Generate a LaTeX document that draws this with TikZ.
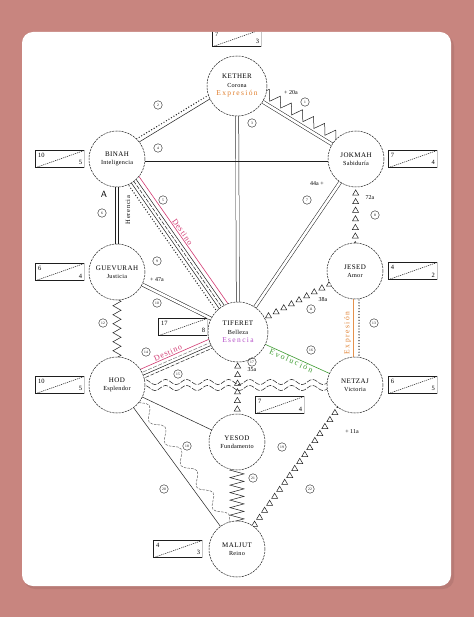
\documentclass[tikz,border=0pt]{standalone}
\usepackage{fontspec}
\setmainfont{Liberation Serif}
\usepackage{xcolor}
\usetikzlibrary{positioning, calc, backgrounds, shapes.geometric, decorations.pathmorphing, decorations.markings}

\definecolor{bgrose}{HTML}{C8857F}
\definecolor{ink}{HTML}{1E1E1E}
\definecolor{cdestino}{HTML}{D23A72}
\definecolor{cevol}{HTML}{3D9B30}
\definecolor{cexpr}{HTML}{E07E2C}
\definecolor{cesen}{HTML}{B54FC8}

% line between two sefirot, shifted sideways
\newcommand{\offline}[4][]{%
  \draw[#1] ($(#2.center)!#4!90:(#3.center)$) -- ($(#3.center)!#4!-90:(#2.center)$);}
% number box with a dashed diagonal
\newcommand{\numbox}[4]{%
  \node[boxframe, #2] (#1) {};
  \draw[boxline] (#1.north east) -- (#1.north west) -- (#1.south west) -- (#1.south east);
  \draw[gray!45, line width=.6pt] (#1.north east) -- (#1.south east);
  \draw[boxdiag] (#1.south west) -- (#1.north east);
  \node[boxnum, anchor=north west] at (#1.north west) {#3};
  \node[boxnum, anchor=south east] at (#1.south east) {#4};}
\newcommand{\ssub}[1]{{\fontsize{6.2}{8.5}\selectfont\addfontfeatures{LetterSpace=4}#1}}
\newcommand{\slab}[2]{{\color{#1}\fontsize{7.5}{8.5}\selectfont\addfontfeatures{LetterSpace=18}#2}}

\begin{document}
\begin{tikzpicture}[x=1pt, y=-1pt, font=\fontsize{6}{7}\selectfont,
  sefira/.style={circle, draw=ink, line width=.5pt, dash pattern=on 2.2pt off .9pt, fill=white,
    minimum size=#1, inner sep=0pt, align=center, font=\fontsize{7}{8.5}\selectfont\addfontfeatures{LetterSpace=6}},
  sefira/.default=56pt,
  boxframe/.style={rectangle, inner sep=0pt, minimum width=49pt, minimum height=17pt},
  boxline/.style={draw=ink, line width=.6pt},
  boxdiag/.style={draw=ink, line width=.5pt, dash pattern=on 1.2pt off .9pt},
  boxnum/.style={inner sep=2.5pt, font=\fontsize{6.5}{7}\selectfont},
  plain/.style={draw=ink, line width=.5pt},
  dbl/.style={draw=ink, line width=.5pt, double=white, double distance=2.6pt},
  dotrow/.style={draw=ink, line width=1.4pt, line cap=round, dash pattern=on 0pt off 2.9pt},
  dashline/.style={draw=ink, line width=.5pt, dash pattern=on 4pt off 1.5pt},
  zigline/.style 2 args={draw=ink, line width=.5pt, decorate, decoration={zigzag, amplitude=#1, segment length=#2}},
  wave/.style={draw=ink, line width=.5pt, dash pattern=on 5pt off 1.5pt, decorate,
    decoration={snake, amplitude=2.6pt, segment length=21pt}},
  squig/.style={draw=ink!70, line width=.5pt, dash pattern=on 2.5pt off 1.2pt, decorate,
    decoration={snake, amplitude=5pt, segment length=27pt}},
  tri/.style={regular polygon, regular polygon sides=3, draw=ink, line width=.5pt, minimum size=7pt, inner sep=0pt},
  trirow/.style={decorate, decoration={markings, mark=between positions 0 and 1 step 8.6pt with {\node[tri] {};}}},
  destino/.style={draw=cdestino, line width=.6pt},
  destlab/.style={text=cdestino, inner sep=1pt, font=\fontsize{8}{8}\selectfont\addfontfeatures{LetterSpace=10}},
  pnum/.style={circle, draw=ink, line width=.4pt, minimum size=8.5pt, inner sep=0pt, font=\fontsize{3.6}{4}\selectfont},
  ann/.style={inner sep=0pt, font=\fontsize{6}{7}\selectfont}]

% sefirot
\node[sefira=60pt] (keter) at (237,86) {KETHER\\\ssub{Corona}\\\slab{cexpr}{Expresión}};
\node[sefira] (binah) at (117,159) {BINAH\\\ssub{Inteligencia}};
\node[sefira] (jokmah) at (356,159) {JOKMAH\\\ssub{Sabiduría}};
\node[sefira] (guevurah) at (117,272) {GUEVURAH\\\ssub{Justicia}};
\node[sefira] (jesed) at (355,271) {JESED\\\ssub{Amor}};
\node[sefira=60pt] (tiferet) at (238,332) {TIFERET\\\ssub{Belleza}\\\slab{cesen}{Esencia}};
\node[sefira] (hod) at (117,385) {HOD\\\ssub{Esplendor}};
\node[sefira] (netzaj) at (355,385) {NETZAJ\\\ssub{Victoria}};
\node[sefira] (yesod) at (237,442) {YESOD\\\ssub{Fundamento}};
\node[sefira] (maljut) at (237,549) {MALJUT\\\ssub{Reino}};

% boxes
\begin{scope}
  \clip[rounded corners=11pt] (22,32) rectangle (451,586);
  \numbox{keterbox}{above=9pt of keter}{7}{3}
\end{scope}
\numbox{binahbox}{left=4pt of binah}{10}{5}
\numbox{jokmahbox}{right=4pt of jokmah}{7}{4}
\numbox{guevurahbox}{left=4pt of guevurah}{6}{4}
\numbox{jesedbox}{right=5pt of jesed}{4}{2}
\numbox{tiferetbox}{left=0pt of tiferet, yshift=5pt}{17}{8}
\numbox{hodbox}{left=4pt of hod}{10}{5}
\numbox{netzajbox}{right=5pt of netzaj}{6}{5}
\numbox{yesodbox}{at={(280,405)}}{7}{4}
\numbox{maljutbox}{left=6pt of maljut}{4}{3}

% path numbers
\node[pnum] (p1) at (305,102) {1};
\node[pnum] (p2) at (158,105) {2};
\node[pnum] (p3) at (252,123) {3};
\node[pnum] (p4) at (158,148) {4};
\node[pnum] (p5) at (163,200) {5};
\node[pnum] (p6) at (102,213) {6};
\node[pnum] (p7) at (307,200) {7};
\node[pnum] (p8) at (375,215) {8};
\node[pnum] (p9) at (157,261) {9};
\node[pnum] (p10) at (157,303) {10};
\node[pnum] (p11) at (311,309) {11};
\node[pnum] (p12) at (103,323) {12};
\node[pnum] (p13) at (374,323) {13};
\node[pnum] (p14) at (146,352) {14};
\node[pnum] (p15) at (178,374) {15};
\node[pnum] (p16) at (311,350) {16};
\node[pnum] (p17) at (252,362) {17};
\node[pnum] (p18) at (187,446) {18};
\node[pnum] (p19) at (282,447) {19};
\node[pnum] (p20) at (164,489) {20};
\node[pnum] (p21) at (253,478) {21};
\node[pnum] (p22) at (310,489) {22};

% annotations
\node[ann] (a20) at (291,93) {+ 20a};
\node[ann] (a44) at (317,184) {44a +};
\node[ann] (a72) at (370,198) {72a};
\node[ann] (a47) at (157,280) {+ 47a};
\node[ann] (a38) at (323,300) {38a};
\node[ann] (a35) at (252,370) {35a};
\node[ann] (a11) at (352,432) {+ 11a};
\node[font=\sffamily\fontsize{9}{9}\selectfont] (alabel) at (104,194) {A};
\node[rotate=90, font=\fontsize{6.5}{7}\selectfont\addfontfeatures{LetterSpace=12}] (herencia) at (128,210) {Herencia};
\node[rotate=90, text=cexpr, font=\fontsize{7.5}{8}\selectfont\addfontfeatures{LetterSpace=20}] (exprlab) at (347.5,333) {Expresión};

\begin{pgfonlayer}{background}
  \fill[bgrose] (0,0) rectangle (474,617);
  \fill[black, opacity=.08, rounded corners=11pt] (24,35) rectangle (454,589);
  \fill[white, rounded corners=11pt] (22,32) rectangle (451,586);
  % upper triangle
  \offline[dotrow]{keter}{binah}{-7pt}
  \offline[plain]{keter}{binah}{-3pt}
  \draw[dbl] (keter.center) -- (jokmah.center);
  \offline[zigline={5pt}{13pt}]{keter}{jokmah}{9pt}
  \draw[dbl] (keter.center) -- (tiferet.center);
  \offline[plain]{binah}{jokmah}{-2pt}
  % pillars
  \draw[dbl] (binah.center) -- (guevurah.center);
  \path[trirow] (jokmah.center) -- (jesed.center);
  \draw[zigline={4pt}{9pt}] (guevurah.center) -- (hod.center);
  \offline[draw=cexpr!85, line width=1.1pt]{jesed}{netzaj}{-1.5pt}
  \offline[dotrow]{jesed}{netzaj}{4pt}
  % towards tiferet
  \offline[dotrow]{binah}{tiferet}{-5.5pt}
  \offline[plain]{binah}{tiferet}{-2pt}
  \offline[dashline]{binah}{tiferet}{1pt}
  \offline[plain]{binah}{tiferet}{4pt}
  \draw[destino] ($(binah.center)!8pt!90:(tiferet.center)$) -- node[pos=.46, sloped, above, destlab] {Destino} ($(tiferet.center)!8pt!-90:(binah.center)$);
  \draw[dbl] (jokmah.center) -- (tiferet.center);
  \draw[dbl] (guevurah.center) -- (tiferet.center);
  \path[trirow] (tiferet.center) -- (jesed.center);
  \draw[destino] ($(tiferet.center)!-5pt!90:(hod.center)$) -- node[pos=.55, sloped, above, destlab] {Destino} ($(hod.center)!-5pt!-90:(tiferet.center)$);
  \offline[dashline, draw=ink!60]{tiferet}{hod}{-1.5pt}
  \offline[plain]{tiferet}{hod}{1.5pt}
  \offline[dashline]{tiferet}{hod}{4.5pt}
  \draw[draw=cevol, line width=.6pt] (tiferet.center) -- node[pos=.47, sloped, below, inner sep=1pt, text=cevol,
    font=\fontsize{8}{8}\selectfont\addfontfeatures{LetterSpace=22}] {Evolución} (netzaj.center);
  % lower part
  \offline[wave]{hod}{netzaj}{3pt}
  \offline[wave]{hod}{netzaj}{-3pt}
  \path[trirow] (tiferet.center) -- (yesod.center);
  \draw[plain] (hod.center) -- (yesod.center);
  \draw[plain] (hod.center) -- (maljut.center);
  \offline[squig]{hod}{maljut}{9pt}
  \draw[zigline={7pt}{7.5pt}] (yesod.center) -- (maljut.center);
  \path[trirow] (netzaj.center) -- (maljut.center);
\end{pgfonlayer}
\end{tikzpicture}
\end{document}
